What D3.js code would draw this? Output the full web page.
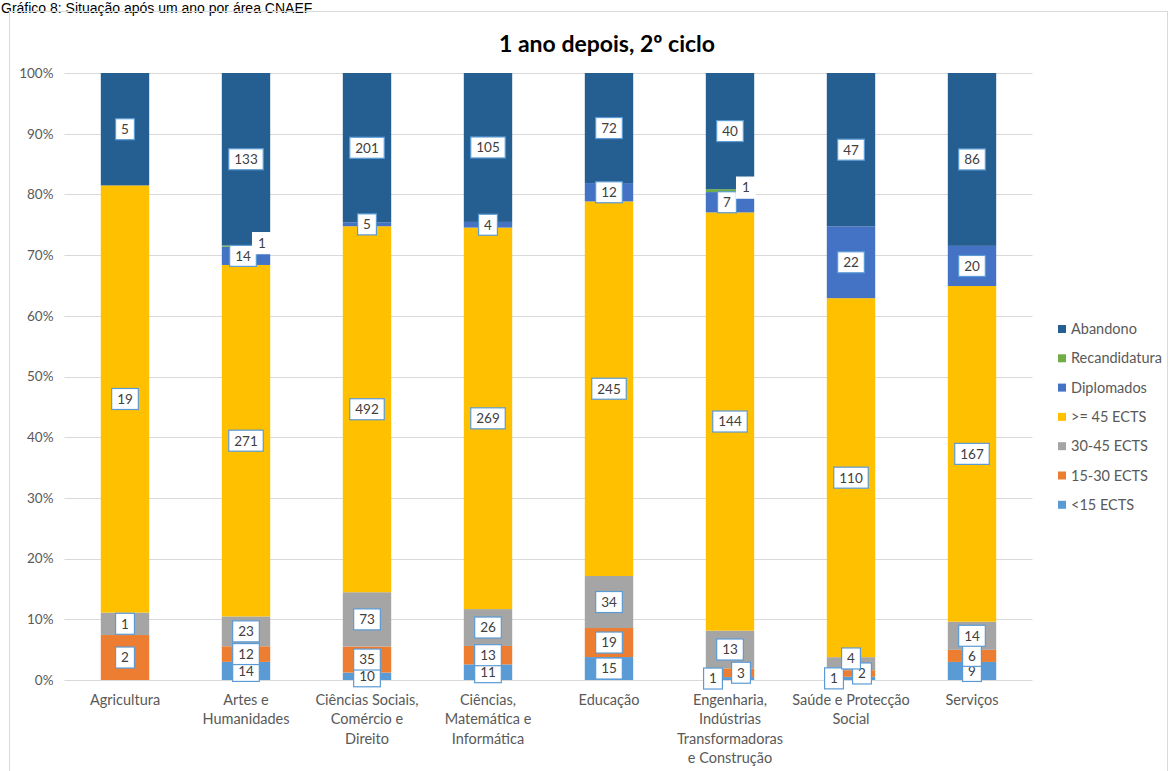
<!DOCTYPE html>
<html><head><meta charset="utf-8">
<script src="https://cdn.jsdelivr.net/npm/d3@7"></script>
<style>body{margin:0;background:#fff}svg{display:block}</style>
</head><body>
<script>
const categories = ["Agricultura","Artes e Humanidades","Ciências Sociais, Comércio e Direito","Ciências, Matemática e Informática","Educação","Engenharia, Indústrias Transformadoras e Construção","Saúde e Protecção Social","Serviços"];
const categoryLines = [["Agricultura"],["Artes e","Humanidades"],["Ciências Sociais,","Comércio e","Direito"],["Ciências,","Matemática e","Informática"],["Educação"],["Engenharia,","Indústrias","Transformadoras","e Construção"],["Saúde e Protecção","Social"],["Serviços"]];
const seriesNames = ["<15 ECTS","15-30 ECTS","30-45 ECTS",">= 45 ECTS","Diplomados","Recandidatura","Abandono"];
const seriesColors = ["#5B9BD5","#ED7D31","#A5A5A5","#FFC000","#4472C4","#70AD47","#255E91"];
const lt15 = [0,14,10,11,15,1,1,9];
const e15_30 = [2,12,35,13,19,3,2,6];
const e30_45 = [1,23,73,26,34,13,4,14];
const ge45 = [19,271,492,269,245,144,110,167];
const diplomados = [0,14,5,4,12,7,22,20];
const recandidatura = [0,1,0,0,0,1,0,0];
const abandono = [5,133,201,105,72,40,47,86];
const yTicks = [0,0.1,0.2,0.3,0.4,0.5,0.6,0.7,0.8,0.9,1];
const chartTitle = "1 ano depois, 2º ciclo";
const caption = "Gráfico 8: Situação após um ano por área CNAEF";

const seriesValues = [lt15,e15_30,e30_45,ge45,diplomados,recandidatura,abandono];
const W=1170,H=771;
const svg=d3.select("body").append("svg").attr("width",W).attr("height",H);
const font="Lato, 'Open Sans', sans-serif";

svg.append("text").attr("x",1).attr("y",13).attr("font-family","Arial, 'Liberation Sans', sans-serif")
  .attr("font-size",14).attr("fill","#000").text(caption);
svg.append("rect").attr("x",9.5).attr("y",11.5).attr("width",1158).attr("height",800)
  .attr("fill","none").attr("stroke","#D9D9D9");

svg.append("text").attr("x",607).attr("y",52).attr("text-anchor","middle")
  .attr("font-family",font).attr("font-weight","bold").attr("font-size",23).attr("fill","#000").text(chartTitle);

const x=d3.scaleBand().domain(categories).range([64.5,1032.5]).paddingInner(0.6).paddingOuter(0.3);
const y=d3.scaleLinear().domain([0,1]).range([680,73]);

// grid
svg.append("g").selectAll("line").data(yTicks).join("line")
  .attr("x1",64.5).attr("x2",1032.5).attr("y1",d=>Math.round(y(d))+0.5).attr("y2",d=>Math.round(y(d))+0.5)
  .attr("stroke","#D9D9D9").attr("stroke-width",1);

const yAxis=svg.append("g").attr("transform","translate(64.5,0)")
  .call(d3.axisLeft(y).tickValues(yTicks).tickFormat(d3.format(".0%")).tickSize(0).tickPadding(11));
yAxis.select(".domain").remove();
yAxis.selectAll("text").attr("font-family",font).attr("font-size",13.5).attr("fill","#595959");

// stack
const rows=categories.map((c,i)=>{const o={cat:c};seriesNames.forEach((s,j)=>o[s]=seriesValues[j][i]);return o;});
const stack=d3.stack().keys(seriesNames).offset(d3.stackOffsetExpand);
const layers=stack(rows);

svg.append("g").selectAll("g").data(layers).join("g").attr("fill",(d,i)=>seriesColors[i])
  .selectAll("rect").data(d=>d).join("rect")
  .attr("x",d=>x(d.data.cat)).attr("width",x.bandwidth())
  .attr("y",d=>y(d[1])).attr("height",d=>Math.max(0,y(d[0])-y(d[1])));

// x labels
const xl=svg.append("g");
categories.forEach((c,i)=>{
  const t=xl.append("text").attr("text-anchor","middle").attr("font-family",font).attr("font-size",14.5).attr("fill","#595959");
  categoryLines[i].forEach((ln,k)=>t.append("tspan").attr("x",x(c)+x.bandwidth()/2).attr("y",705+k*19.3).text(ln));
});

// data labels
const lblG=svg.append("g");
const measure=svg.append("text").attr("font-family",font).attr("font-size",13.5);
categories.forEach((c,i)=>{
  const cx=x(c)+x.bandwidth()/2;
  const labels=[];
  layers.forEach((L,j)=>{
    const v=seriesValues[j][i];
    if(!v) return;
    const d=L[i];
    labels.push({v,j,cy:y((d[0]+d[1])/2),dx:0});
  });
  labels.sort((a,b)=>b.cy-a.cy);
  for(let k=1;k<labels.length;k++){
    const p=labels[k-1],q=labels[k];
    const gap=p.cy-q.cy;
    if(gap<12){
      if(p.dx===0){
        if(gap<8){p.dx=-17;q.dx=11;}
        else {p.dx=-3;q.dx=16;q.cy-=3;}
      } else {q.dx=0; q.cy=Math.min(q.cy,p.cy-15);}
    }
  }
  labels.forEach(l=>{
    measure.text(l.v);
    const tw=measure.node().getComputedTextLength();
    const bw=tw+11,bh=21;
    const g=lblG.append("g").attr("transform",`translate(${cx+l.dx},${l.cy})`);
    g.append("rect").attr("x",-bw/2).attr("y",-bh/2).attr("width",bw).attr("height",bh)
      .attr("fill","#fff").attr("stroke",l.j===5?"#fff":"#5B9BD5").attr("stroke-width",1.2);
    g.append("text").attr("text-anchor","middle").attr("dy","0.36em").attr("font-family",font)
      .attr("font-size",13.5).attr("fill","#404040").text(l.v);
  });
});
measure.remove();

// legend
const leg=svg.append("g");
const order=[6,5,4,3,2,1,0];
order.forEach((j,k)=>{
  const yy=329+k*29.3;
  leg.append("rect").attr("x",1058).attr("y",yy-4).attr("width",8).attr("height",8).attr("fill",seriesColors[j]);
  leg.append("text").attr("x",1071).attr("y",yy).attr("dy","0.35em").attr("font-family",font)
    .attr("font-size",14.5).attr("fill","#595959").text(seriesNames[j]);
});
</script>
</body></html>
